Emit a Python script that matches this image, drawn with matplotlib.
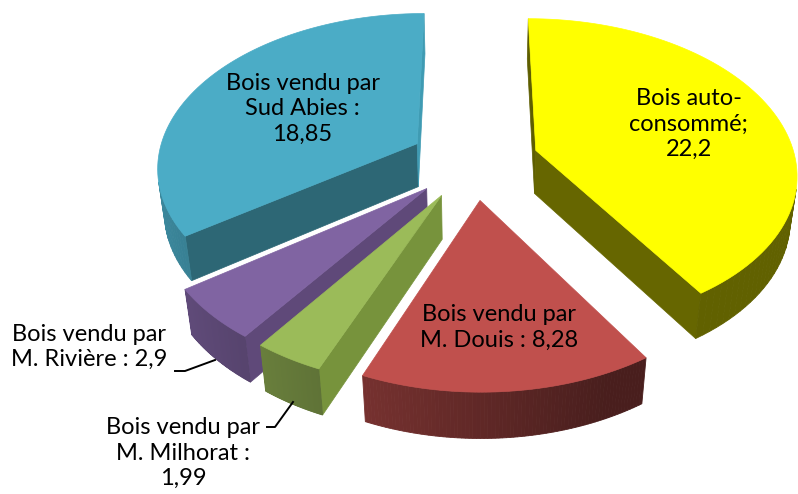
import numpy as np
import matplotlib.pyplot as plt
from matplotlib.patches import Polygon
from matplotlib.colors import to_rgb

plt.rcParams['font.family'] = ['Lato', 'DejaVu Sans']

# données (sens horaire depuis midi)
names = ["Bois auto-\nconsommé", "Bois vendu par\nM. Douis", "Bois vendu par\nM. Milhorat",
         "Bois vendu par\nM. Rivière", "Bois vendu par\nSud Abies"]
values = [22.2, 8.28, 1.99, 2.9, 18.85]
separators = [";\n", " : ", " :\n", " : ", " :\n"]
top_colors = ["#FFFF00", "#C0504D", "#9BBB59", "#8064A2", "#4BACC6"]
start_colors = ["#5E5E00", "#6A2625", "#77933C", "#5F4979", "#2D6775"]
end_colors = ["#666600", "#6A2625", "#6A8535", "#5F4979", "#3F9BB3"]

# géométrie 3D (rayon = 1)
R = 260.0
cx, cy = 474, 161
phi = np.radians(36)
D = 5.8
h = 0.21
explode = 0.25
cam = np.array([0, -D * np.cos(phi), D * np.sin(phi)])
FS = 17
LS = 1.27


def project(X, Y, Z):
    yp = Y * np.sin(phi) + Z * np.cos(phi)
    w = -Y * np.cos(phi) + Z * np.sin(phi)
    s = D / (D - w)
    return cx + R * X * s, cy - R * yp * s


def visible(normal, point):
    return np.dot(normal, cam - np.asarray(point)) > 0


def shade(color, f):
    return tuple(np.clip(np.array(to_rgb(color)) * f, 0, 1))


fig = plt.figure(figsize=(7.98, 4.94), dpi=100)
ax = fig.add_axes([0, 0, 1, 1])
ax.set_xlim(0, 798)
ax.set_ylim(494, 0)
ax.axis('off')

total = sum(values)
bounds = np.concatenate([[0], np.cumsum(values)]) / total * 2 * np.pi

wedges = []
for i in range(len(values)):
    a0, a1 = bounds[i], bounds[i + 1]
    m = (a0 + a1) / 2
    ox, oy = explode * np.sin(m), explode * np.cos(m)
    wedges.append((oy + 0.5 * np.cos(m), i, a0, a1, ox, oy))

# peintre : de l'arrière vers l'avant
for _, i, a0, a1, ox, oy in sorted(wedges, reverse=True):
    t = np.linspace(a0, a1, 80)
    rx, ry = ox + np.sin(t), oy + np.cos(t)

    # faces radiales
    faces = [(a0, (-np.cos(a0), np.sin(a0), 0), start_colors[i]),
             (a1, (np.cos(a1), -np.sin(a1), 0), end_colors[i])]
    for a, nrm, col in faces:
        mid = (ox + 0.5 * np.sin(a), oy + 0.5 * np.cos(a), -h / 2)
        if visible(nrm, mid):
            X = [ox, ox + np.sin(a), ox + np.sin(a), ox]
            Y = [oy, oy + np.cos(a), oy + np.cos(a), oy]
            Z = [0, 0, -h, -h]
            px, py = project(np.array(X), np.array(Y), np.array(Z))
            ax.add_patch(Polygon(np.column_stack([px, py]), closed=True,
                                 facecolor=col, edgecolor=col, lw=0.5))

    # paroi extérieure en dégradé
    for j in range(len(t) - 1):
        tm = (t[j] + t[j + 1]) / 2
        nrm = (np.sin(tm), np.cos(tm), 0)
        if not visible(nrm, (ox + np.sin(tm), oy + np.cos(tm), -h / 2)):
            continue
        X = np.array([rx[j], rx[j + 1], rx[j + 1], rx[j]])
        Y = np.array([ry[j], ry[j + 1], ry[j + 1], ry[j]])
        Z = np.array([0, 0, -h, -h])
        px, py = project(X, Y, Z)
        c = shade(top_colors[i], np.clip(0.5 - 0.3 * np.sin(tm), 0.38, 0.85))
        ax.add_patch(Polygon(np.column_stack([px, py]), closed=True,
                             facecolor=c, edgecolor=c, lw=0.6))

    # dessus
    X = np.concatenate([[ox], rx])
    Y = np.concatenate([[oy], ry])
    px, py = project(X, Y, np.zeros_like(X))
    ax.add_patch(Polygon(np.column_stack([px, py]), closed=True,
                         facecolor=top_colors[i], edgecolor=top_colors[i], lw=0.5))

texts = [f"{n}{s}{str(v).replace('.', ',')}" for n, s, v in zip(names, separators, values)]

# étiquettes intérieures
inside = {0: 0.64, 1: 0.7, 4: 0.53}
for i, frac in inside.items():
    m = (bounds[i] + bounds[i + 1]) / 2
    ex = (explode + frac) * np.sin(m)
    ey = (explode + frac) * np.cos(m)
    lx, ly = project(ex, ey, 0)
    ax.text(lx, ly, texts[i], ha='center', va='center', fontsize=FS,
            linespacing=LS, color='black')

# étiquettes extérieures avec traits de rappel
ax.text(89, 347, texts[3], ha='center', va='center', fontsize=FS, linespacing=LS)
ax.plot([175, 185, 215], [371, 371, 360], color='black', lw=1.4)
ax.text(183, 453, texts[2], ha='center', va='center', fontsize=FS, linespacing=LS)
ax.plot([267, 275, 293], [427, 427, 402], color='black', lw=1.4)

fig.savefig('out.png', dpi=100)
